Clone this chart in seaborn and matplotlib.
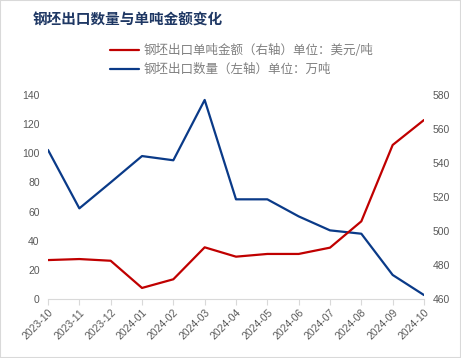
import matplotlib
matplotlib.use('Agg')
import matplotlib.pyplot as plt
import seaborn as sns
import pandas as pd
from matplotlib.lines import Line2D
from matplotlib.patches import Rectangle

# Data
months = ['2023-10', '2023-11', '2023-12', '2024-01', '2024-02', '2024-03', '2024-04',
          '2024-05', '2024-06', '2024-07', '2024-08', '2024-09', '2024-10']
volume = [102.3, 62.2, 80.0, 98.1, 95.2, 136.6, 68.4, 68.4, 56.7, 47.1, 44.8, 16.5, 2.7]   # 万吨, left axis
price = [482.9, 483.5, 482.5, 466.5, 471.6, 490.4, 484.9, 486.5, 486.5, 490.2, 505.7, 550.6, 565.3]  # 美元/吨, right axis

title = '钢坯出口数量与单吨金额变化'
label_price = '钢坯出口单吨金额（右轴）单位：美元/吨'
label_volume = '钢坯出口数量（左轴）单位：万吨'

red = '#C00000'
blue = '#0A3A88'
gray = '#595959'

df = pd.DataFrame({'idx': range(len(months)), 'month': months, 'volume': volume, 'price': price})

sns.set_style('white')
plt.rcParams['font.family'] = ['Noto Sans CJK SC', 'DejaVu Sans']

fig = plt.figure(figsize=(4.61, 3.58), dpi=100)
ax = fig.add_axes([48 / 461, 59 / 358, 376 / 461, 204 / 358])
ax2 = ax.twinx()

sns.lineplot(data=df, x='idx', y='volume', ax=ax, color=blue, linewidth=1.6)
sns.lineplot(data=df, x='idx', y='price', ax=ax2, color=red, linewidth=1.6)

ax.set_xlim(0, len(months) - 1)
ax.set_ylim(0, 140)
ax2.set_ylim(460, 580)
ax.set_yticks(range(0, 141, 20))
ax2.set_yticks(range(460, 581, 20))
ax.set_xticks(df['idx'])
ax.set_xticklabels(months, rotation=45, ha='right', rotation_mode='anchor')

for a in (ax, ax2):
    a.set_xlabel('')
    a.set_ylabel('')
    for s in ('top', 'left', 'right'):
        a.spines[s].set_visible(False)
    a.spines['bottom'].set_color('#d9d9d9')
    a.tick_params(axis='y', length=0, labelsize=7.5, labelcolor=gray, pad=6)
    for t in a.get_yticklabels():
        t.set_family('Liberation Sans')
ax2.spines['bottom'].set_visible(False)
ax.tick_params(axis='x', length=4, color='#d9d9d9', labelsize=7.5, labelcolor=gray, pad=2, bottom=True)
for t in ax.get_xticklabels():
    t.set_family('Liberation Sans')

fig.text(33 / 461, 1 - 20 / 358, title, fontsize=10.5, fontweight='bold', color='#1F3864',
         va='center', ha='left')

handles = [Line2D([], [], color=red, linewidth=1.6), Line2D([], [], color=blue, linewidth=1.6)]
leg = fig.legend(handles, [label_price, label_volume], loc='upper left',
                 bbox_to_anchor=(104 / 461, 1 - 38 / 358), frameon=False, fontsize=9,
                 handlelength=2.3, handletextpad=0.4, labelspacing=0.45, borderpad=0)
for t in leg.get_texts():
    t.set_color('#7F7F7F')

fig.patches.append(Rectangle((0, 0), 1, 1, transform=fig.transFigure, fill=False,
                             edgecolor='#d9d9d9', linewidth=1.5))

fig.savefig('out.png', dpi=100)
